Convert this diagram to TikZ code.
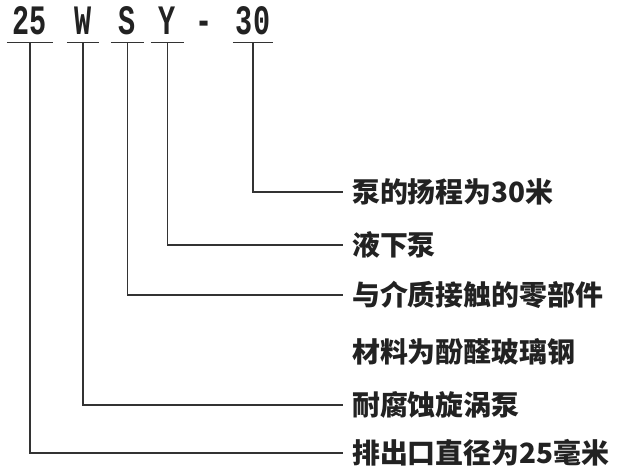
\documentclass[tikz,border=0pt]{standalone}
\usepackage{fontspec}
\setmainfont{Liberation Serif}
\newfontfamily\cjkfont{Noto Sans CJK SC}
\newfontfamily\codefont{Liberation Mono}
\definecolor{ink}{HTML}{222222}
\definecolor{wire}{HTML}{333333}
\newcommand{\codeglyph}[1]{\scalebox{0.68}[1]{#1}}
\begin{document}
\begin{tikzpicture}[x=1bp,y=-1bp,
  codetext/.style={font=\codefont\bfseries\fontsize{42}{42}\selectfont, text=ink, inner xsep=0pt, inner ysep=7.5bp, text depth=0pt, anchor=south},
  lab/.style={font=\cjkfont\bfseries\fontsize{28}{28}\selectfont, text=ink, anchor=west, inner xsep=9bp, inner ysep=0pt},
  wireline/.style={draw=wire, line width=1.2bp},
  conn/.style={wireline}]
\useasboundingbox[fill=white] (0,0) rectangle (624,467);
% codes
\node[codetext, minimum width=46bp] (c25) at (30,42.5) {\codeglyph{25}};
\node[codetext, minimum width=32bp] (cW) at (83,42.5) {\codeglyph{W}};
\node[codetext, minimum width=33bp] (cS) at (127.5,42.5) {\codeglyph{S}};
\node[codetext, minimum width=33bp] (cY) at (167.5,42.5) {\codeglyph{Y}};
\node[codetext, minimum width=12bp] (cdash) at (204,42.5) {\codeglyph{-}};
\node[codetext, minimum width=40bp] (c30) at (253,42.5) {\codeglyph{30}};
\foreach \n in {c25,cW,cS,cY,c30}
  \draw[wireline] (\n.south west) -- (\n.south east);
% labels
\node[lab] (l30) at (343,192) {泵的扬程为30米};
\node[lab] (lY) at (343,245) {液下泵};
\node[lab] (lS) at (343,295) {与介质接触的零部件};
\node[lab] (lmat) at (343,352) {材料为酚醛玻璃钢};
\node[lab] (lW) at (343,405) {耐腐蚀旋涡泵};
\node[lab] (l25) at (343,453) {排出口直径为25毫米};
% connectors
\draw[conn] (c30.south) |- (l30.west);
\draw[conn] (cY.south) |- (lY.west);
\draw[conn] (cS.south) |- (lS.west);
\draw[conn] (cW.south) |- (lW.west);
\draw[conn] (c25.south) |- (l25.west);
\end{tikzpicture}
\end{document}
